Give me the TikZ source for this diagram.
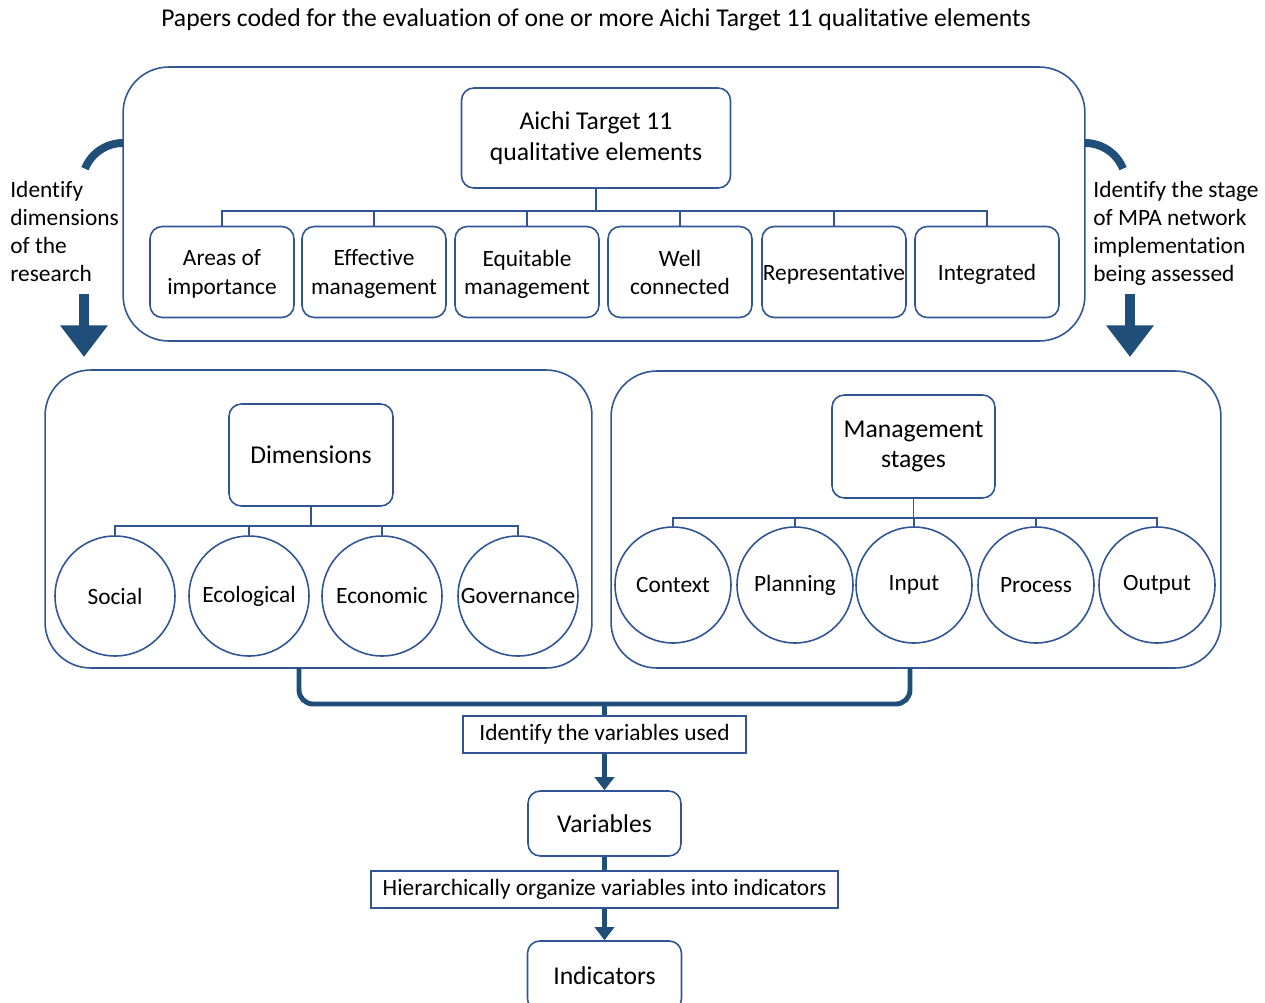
\documentclass[tikz,border=0pt]{standalone}
\usepackage{fontspec}
\setmainfont{Carlito}[Ligatures=NoCommon]
\usetikzlibrary{arrows.meta}

\definecolor{boxblue}{HTML}{2F5597}
\definecolor{darkblue}{HTML}{1F4E79}

\tikzset{
  txt/.style={font=\fontsize{13.3}{16}\selectfont, inner sep=0pt},
  bigtxt/.style={font=\fontsize{14.6}{17.6}\selectfont},
  box/.style={txt, draw=boxblue, line width=0.9pt, rounded corners=7pt, align=center},
  bigbox/.style={draw=boxblue, line width=0.9pt, rounded corners=26pt, inner sep=0pt},
  flatbox/.style={txt, draw=boxblue, line width=0.9pt},
  elem/.style={box, minimum width=2.88cm, minimum height=1.82cm, text depth=-4pt},
  disc/.style={txt, draw=boxblue, line width=0.9pt, circle, minimum size=2.4cm},
  stagedisc/.style={disc, minimum size=2.32cm},
  tree/.style={draw=boxblue, line width=0.8pt},
  curl/.style={draw=darkblue, line width=4.5pt},
  bigarrow/.style={draw=darkblue, line width=5.7pt, -{Triangle[width=26pt,length=18pt]}},
  bracket/.style={draw=darkblue, line width=2.8pt, rounded corners=8pt},
  flow/.style={draw=darkblue, line width=2.8pt, -{Triangle[width=11pt,length=7.5pt]}},
}

\begin{document}
\begin{tikzpicture}[x=0.02cm, y=-0.02cm]
\useasboundingbox (0,0) rectangle (1265,1002);

\node[txt, bigtxt] (title) at (596,20) {Papers coded for the evaluation of one or more Aichi Target 11 qualitative elements};

% top panel
\node[bigbox, minimum width=19.24cm, minimum height=5.48cm] (aims) at (604,204) {};
\node[box, bigtxt, minimum width=5.38cm, minimum height=2cm] (aichi) at (596,138) {Aichi Target 11\\qualitative elements};
\coordinate (abus) at (596,211);
\draw[tree] (aichi.south) -- (abus);
\foreach \nm/\xc/\lbl in {area/222/{Areas of\\importance}, effect/374/{Effective\\management}, equit/527/{Equitable\\management}, conn/680/{Well\\connected}, repr/834/{Representative}, integ/987/{Integrated}}{
  \node[elem] (\nm) at (\xc,272) {\lbl};
  \draw[tree] (\nm.north) |- (abus);
}

% side notes
\coordinate (lbend) at (123,143);
\coordinate (rbend) at (1085,143);
\draw[curl] (lbend) arc[start angle=90, end angle=158, radius=0.82cm];
\draw[curl] (rbend) arc[start angle=90, end angle=22, radius=0.82cm];
\node[txt, align=left, anchor=north west] (dimnote) at (10,181) {Identify\\dimensions\\of the\\research};
\node[txt, align=left, anchor=north west] (stagenote) at (1093,181) {Identify the stage\\of MPA network\\implementation\\being assessed};
\coordinate (ldown) at (84,294);
\coordinate (rdown) at (1130,294);
\draw[bigarrow] (ldown) -- ++(0,63);
\draw[bigarrow] (rdown) -- ++(0,63);

% dimensions panel
\node[bigbox, minimum width=10.94cm, minimum height=5.96cm] (dimbox) at (318.5,519) {};
\node[box, bigtxt, minimum width=3.28cm, minimum height=2.04cm] (dims) at (311,455) {Dimensions};
\coordinate (dbus) at (311,526);
\draw[tree] (dims.south) -- (dbus);
\foreach \nm/\xc/\lbl in {social/115/Social, ecol/249/Ecological, econ/382/Economic, gov/518/Governance}{
  \node[disc] (\nm) at (\xc,596) {\lbl};
  \draw[tree] (\nm.north) |- (dbus);
}

% management panel
\node[bigbox, minimum width=12.2cm, minimum height=5.94cm] (stagebox) at (916,519.5) {};
\node[box, bigtxt, minimum width=3.26cm, minimum height=2.06cm] (stages) at (913.5,446.5) {Management\\stages};
\coordinate (sbus) at (913.5,518);
\draw[tree] (stages.south) -- (sbus);
\foreach \nm/\xc/\lbl in {context/673/Context, plan/795/Planning, input/914/Input, process/1036/Process, output/1157/Output}{
  \node[stagedisc] (\nm) at (\xc,585) {\lbl};
  \draw[tree] (\nm.north) |- (sbus);
}

% lower flow
\coordinate (brl) at (299,668);
\coordinate (brr) at (910,668);
\coordinate (brmid) at (604.5,704);
\node[flatbox, minimum width=5.66cm, minimum height=0.74cm] (used) at (604.5,734.5) {Identify the variables used};
\node[box, bigtxt, minimum width=3.06cm, minimum height=1.3cm] (vars) at (604.5,823.5) {Variables};
\node[flatbox, minimum width=9.34cm, minimum height=0.74cm] (hier) at (604.5,889.5) {Hierarchically organize variables into indicators};
\node[box, bigtxt, minimum width=3.08cm, minimum height=1.4cm] (inds) at (604.5,976) {Indicators};

\draw[bracket] (brl) |- (brmid) -| (brr);
\draw[bracket] (brmid) -- (used.north);
\draw[flow] (used.south) -- (vars.north);
\draw[bracket] (vars.south) -- (hier.north);
\draw[flow] (hier.south) -- (inds.north);
\end{tikzpicture}
\end{document}
